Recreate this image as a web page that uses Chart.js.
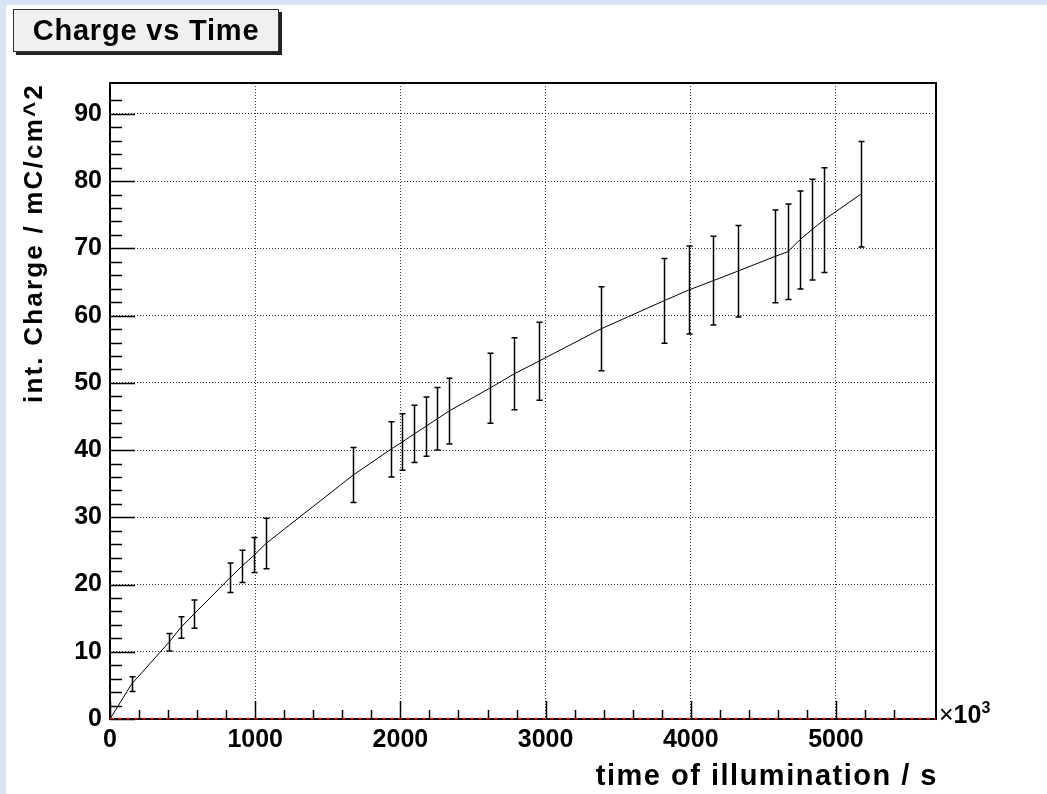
<!DOCTYPE html>
<html>
<head>
<meta charset="utf-8">
<title>Charge vs Time</title>
<script src="https://cdn.jsdelivr.net/npm/chart.js@4.4.1/dist/chart.umd.min.js"></script>
<style>
  html, body { margin: 0; padding: 0; background: #ffffff; }
  #page {
    position: relative; width: 1047px; height: 794px; overflow: hidden;
    background: #d8e3f4;
    font-family: "Liberation Sans", Arial, Helvetica, sans-serif;
  }
  #inner { position: absolute; left: 6px; top: 5px; right: 0; bottom: 0; background: #ffffff; }
  #chart { position: absolute; left: 0; top: 0; }
  #titleBox {
    position: absolute; left: 13px; top: 9px; width: 264px; height: 41px;
    background: #f0f0f0; border: 1px solid #333;
    box-shadow: 3px 3px 0 #222;
    font-weight: bold; font-size: 29px; line-height: 41px; text-align: center; color: #000;
    letter-spacing: 0.8px;
  }
  #xTitle {
    position: absolute; left: 438px; top: 759px; width: 500px; height: 32px;
    text-align: right; white-space: nowrap;
    font-weight: bold; font-size: 29px; line-height: 32px; letter-spacing: 1.5px; color: #000;
  }
  #yTitle {
    position: absolute; left: 18px; top: 413px; width: 330px; height: 30px;
    transform-origin: 0 0; transform: rotate(-90deg);
    text-align: right; white-space: nowrap;
    font-weight: bold; font-size: 26px; line-height: 30px; letter-spacing: 2.2px; color: #000;
  }
  #expo {
    position: absolute; left: 939px; top: 700px;
    font-weight: bold; font-size: 25px; color: #000;
  }
  #expo .times { font-weight: normal; }
  #expo sup { font-size: 16px; position: relative; top: -1px; }
</style>
</head>
<body>
<div id="page">
  <div id="inner"></div>
  <canvas id="chart" width="1047" height="794"></canvas>
  <div id="titleBox">Charge vs Time</div>
  <div id="yTitle">int. Charge / mC/cm^2</div>
  <div id="xTitle">time of illumination / s</div>
  <div id="expo"><span class="times">×</span>10<sup>3</sup></div>
</div>
<script>
// --- Data ---
const timeSec = [0, 149, 406, 487, 578, 826, 907, 994, 1074, 1676, 1933, 2013, 2094, 2174, 2254, 2335,
                 2615, 2785, 2952, 3384, 3815, 3985, 4155, 4322, 4580, 4669, 4750, 4835, 4915, 5170];
const charge = [0, 5.2, 11.4, 13.6, 15.6, 21.0, 22.7, 24.4, 26.1, 36.3, 40.1, 41.2, 42.4, 43.5, 44.65, 45.8,
                49.2, 51.35, 53.2, 58.05, 62.2, 63.8, 65.2, 66.6, 68.8, 69.5, 71.25, 72.8, 74.2, 78.05];
const chargeErr = [0, 1.1, 1.3, 1.6, 2.1, 2.2, 2.4, 2.6, 3.75, 4.1, 4.1, 4.2, 4.25, 4.4, 4.65, 4.9,
                   5.2, 5.35, 5.8, 6.25, 6.3, 6.55, 6.6, 6.8, 6.9, 7.1, 7.3, 7.5, 7.8, 7.85];

const xMajorLabels = [0, 1000, 2000, 3000, 4000, 5000];
const yMajorLabels = [0, 10, 20, 30, 40, 50, 60, 70, 80, 90];
const xRange = [0, 5689];
const yRange = [0, 94.6];

const labelFont = { family: "'Liberation Sans', Arial, sans-serif", size: 25, weight: 'bold' };

// ROOT style: inward ticks, error bars, red zero line, frame
const rootFrame = {
    id: 'rootFrame',
    afterDatasetsDraw(chart) {
        const { ctx, chartArea: a, scales: { x, y } } = chart;
        ctx.save();

        // error bars
        ctx.strokeStyle = '#000';
        ctx.lineWidth = 1.5;
        timeSec.forEach((t, i) => {
            const e = chargeErr[i];
            if (!e) return;
            const px = Math.round(x.getPixelForValue(t)) + 0.5;
            const top = y.getPixelForValue(charge[i] + e);
            const bot = y.getPixelForValue(charge[i] - e);
            ctx.beginPath();
            ctx.moveTo(px, top); ctx.lineTo(px, bot);
            ctx.moveTo(px - 3, top); ctx.lineTo(px + 3, top);
            ctx.moveTo(px - 3, bot); ctx.lineTo(px + 3, bot);
            ctx.stroke();
        });

        // inward tick marks
        ctx.lineWidth = 1.5;
        ctx.beginPath();
        y.ticks.forEach(t => {
            const py = Math.round(y.getPixelForValue(t.value)) + 0.5;
            const len = t.value % 10 === 0 ? 25 : 12;
            ctx.moveTo(a.left, py); ctx.lineTo(a.left + len, py);
        });
        x.ticks.forEach(t => {
            const px = Math.round(x.getPixelForValue(t.value)) + 0.5;
            const len = t.value % 1000 === 0 ? 18 : 9;
            ctx.moveTo(px, a.bottom); ctx.lineTo(px, a.bottom - len);
        });
        ctx.stroke();

        // frame
        ctx.lineWidth = 2;
        ctx.strokeStyle = '#000';
        ctx.strokeRect(a.left, a.top, a.right - a.left, a.bottom - a.top);

        // red dashed line along zero
        const y0 = y.getPixelForValue(0);
        ctx.strokeStyle = '#e0161b';
        ctx.lineWidth = 1.5;
        ctx.setLineDash([4, 4]);
        ctx.beginPath();
        ctx.moveTo(a.left, y0 - 0.5); ctx.lineTo(a.right, y0 - 0.5);
        ctx.stroke();
        ctx.restore();
    }
};

const points = timeSec.map((t, i) => ({ x: t, y: charge[i] }));

new Chart(document.getElementById('chart'), {
    type: 'scatter',
    data: {
        datasets: [{
            data: points,
            showLine: true,
            borderColor: '#000',
            borderWidth: 1,
            pointRadius: 0,
            tension: 0
        }]
    },
    options: {
        responsive: false,
        animation: false,
        layout: { padding: { top: 83, right: 111, left: 0, bottom: 0 } },
        plugins: { legend: { display: false }, tooltip: { enabled: false } },
        scales: {
            x: {
                type: 'linear',
                min: xRange[0], max: xRange[1],
                afterBuildTicks: s => { s.ticks = s.ticks.filter(t => t.value % 200 === 0); },
                afterFit: s => { s.height = 75; },
                ticks: {
                    stepSize: 200, autoSkip: false, maxRotation: 0, padding: 6,
                    color: '#000', font: labelFont,
                    callback: v => xMajorLabels.includes(v) ? String(v) : ''
                },
                grid: {
                    drawTicks: false,
                    lineWidth: 1,
                    color: c => (c.tick && c.tick.value % 1000 === 0 && c.tick.value !== 0) ? '#333' : 'rgba(0,0,0,0)'
                },
                border: { display: false, dash: [1, 2] }
            },
            y: {
                type: 'linear',
                min: yRange[0], max: yRange[1],
                afterBuildTicks: s => { s.ticks = s.ticks.filter(t => t.value % 2 === 0); },
                afterFit: s => { s.width = 110; },
                ticks: {
                    stepSize: 2, autoSkip: false, padding: 8,
                    color: '#000', font: labelFont,
                    callback: v => yMajorLabels.includes(v) ? String(v) : ''
                },
                grid: {
                    drawTicks: false,
                    lineWidth: 1,
                    color: c => (c.tick && c.tick.value % 10 === 0 && c.tick.value !== 0) ? '#333' : 'rgba(0,0,0,0)'
                },
                border: { display: false, dash: [1, 2] }
            }
        }
    },
    plugins: [rootFrame]
});
</script>
</body>
</html>
